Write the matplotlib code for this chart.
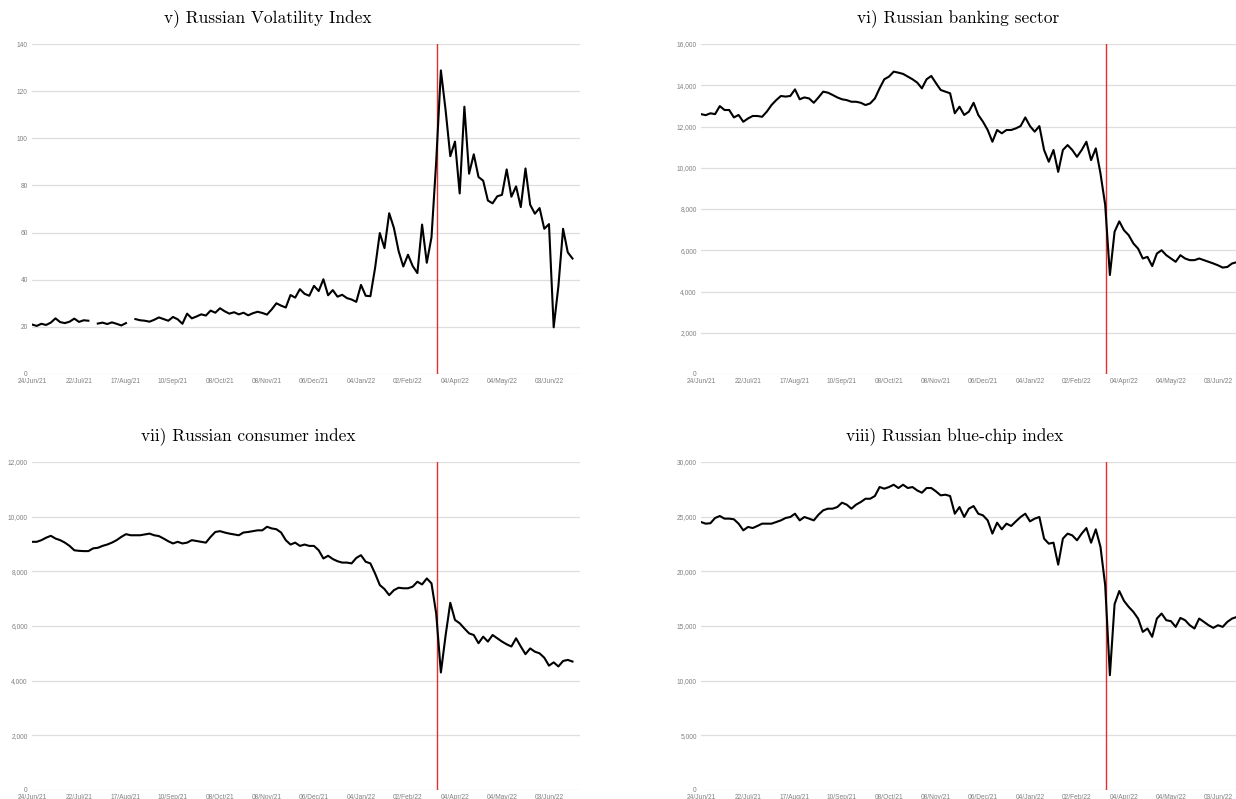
import numpy as np
import matplotlib.pyplot as plt
from matplotlib.ticker import FuncFormatter

# trading-day axis labels (one every 20 sessions)
date_labels = ["24/Jun/21", "22/Jul/21", "17/Aug/21", "10/Sep/21", "08/Oct/21",
               "08/Nov/21", "06/Dec/21", "04/Jan/22", "02/Feb/22", "04/Apr/22",
               "04/May/22", "03/Jun/22"]

# series sampled every second session
vix = [21.0, 20.4, 21.3, 20.8, 21.8, 23.6, 22.0, 21.6, 22.2, 23.5,
       22.1, 22.8, 22.6, np.nan, 21.4, 21.8, 21.2, 21.9, 21.3, 20.6,
       21.6, np.nan, 23.3, 22.8, 22.6, 22.2, 23.0, 24.0, 23.3, 22.6,
       24.2, 23.2, 21.3, 25.6, 23.6, 24.4, 25.3, 24.8, 26.9, 26.0,
       27.9, 26.6, 25.6, 26.2, 25.3, 26.0, 24.9, 25.8, 26.4, 25.9,
       25.2, 27.4, 30.0, 29.0, 28.2, 33.5, 32.4, 36.0, 34.0, 33.2,
       37.4, 35.2, 40.2, 33.4, 35.6, 32.8, 33.6, 32.2, 31.6, 30.6,
       37.8, 33.2, 33.0, 45.0, 59.8, 53.4, 68.2, 62.0, 52.2, 45.6,
       50.6, 45.8, 42.8, 63.4, 47.2, 58.0, 90.0, 128.8, 112.0, 92.4,
       98.6, 76.6, 113.4, 85.0, 93.2, 83.6, 82.0, 73.6, 72.4, 75.4,
       76.0, 86.8, 75.2, 79.6, 70.8, 87.2, 71.8, 68.0, 70.4, 61.6,
       63.6, 19.8, 37.2, 61.6, 51.6, 49.0]

banking = [12600, 12550, 12640, 12600, 12990, 12800, 12800, 12440, 12560, 12230,
           12390, 12510, 12510, 12470, 12720, 13040, 13280, 13480, 13450, 13480,
           13800, 13320, 13410, 13360, 13150, 13410, 13690, 13640, 13530, 13410,
           13320, 13280, 13200, 13200, 13150, 13040, 13120, 13360, 13850, 14290,
           14420, 14660, 14610, 14550, 14420, 14290, 14130, 13850, 14290, 14450,
           14100, 13770, 13690, 13610, 12640, 12960, 12560, 12720, 13150, 12560,
           12230, 11830, 11260, 11830, 11670, 11830, 11830, 11910, 12020, 12440,
           12020, 11750, 12020, 10860, 10290, 10860, 9800, 10860, 11100, 10860,
           10530, 10860, 11260, 10370, 10940, 9720, 8200, 4800, 6900, 7400,
           6970, 6730, 6330, 6080, 5600, 5680, 5230, 5840, 6000, 5760,
           5600, 5440, 5760, 5600, 5520, 5520, 5600, 5520, 5440, 5360,
           5270, 5160, 5190, 5360, 5420, 5500]

consumer = [9080, 9080, 9140, 9230, 9300, 9200, 9140, 9050, 8930, 8770,
            8750, 8740, 8740, 8840, 8860, 8930, 8980, 9050, 9140, 9260,
            9360, 9320, 9320, 9320, 9350, 9380, 9320, 9290, 9200, 9100,
            9020, 9080, 9020, 9050, 9140, 9110, 9080, 9050, 9260, 9440,
            9470, 9420, 9380, 9350, 9320, 9420, 9440, 9470, 9500, 9500,
            9630, 9570, 9540, 9420, 9140, 8980, 9050, 8930, 8980, 8930,
            8930, 8770, 8470, 8570, 8450, 8370, 8320, 8320, 8290, 8490,
            8590, 8350, 8290, 7920, 7500, 7350, 7130, 7310, 7400, 7380,
            7380, 7440, 7620, 7520, 7740, 7560, 6460, 4300, 5650, 6850,
            6220, 6100, 5910, 5730, 5670, 5370, 5610, 5430, 5670, 5550,
            5430, 5330, 5250, 5550, 5250, 4970, 5180, 5060, 5000, 4840,
            4550, 4670, 4520, 4720, 4760, 4700]

bluechip = [24510, 24360, 24400, 24880, 25060, 24820, 24820, 24760, 24360, 23750,
            24060, 23960, 24150, 24360, 24360, 24360, 24510, 24660, 24880, 24970,
            25270, 24660, 24970, 24820, 24660, 25180, 25580, 25730, 25730, 25880,
            26280, 26100, 25730, 26100, 26340, 26640, 26640, 26890, 27710, 27560,
            27710, 27920, 27620, 27920, 27620, 27710, 27400, 27190, 27620, 27620,
            27310, 26950, 27010, 26890, 25270, 25880, 24970, 25730, 25970, 25270,
            25120, 24660, 23450, 24450, 23840, 24360, 24150, 24570, 24970, 25270,
            24570, 24820, 24970, 22990, 22530, 22620, 20610, 22990, 23450, 23290,
            22840, 23450, 23960, 22620, 23840, 22230, 18730, 10500, 17000, 18200,
            17300, 16750, 16290, 15680, 14460, 14770, 14010, 15680, 16140, 15530,
            15440, 14920, 15740, 15530, 15070, 14770, 15680, 15380, 15070, 14830,
            15070, 14920, 15380, 15680, 15830, 15900]

# position of the 24 Feb 2022 marker on the session axis
event_pos = 86.2

W, H = 1236, 799
fig = plt.figure(figsize=(W / 100, H / 100), dpi=100)


def px_box(left, top, right, bottom):
    return [left / W, 1 - bottom / H, (right - left) / W, (bottom - top) / H]


panels = [
    (vix, "v) Russian Volatility Index", 140, 20, False,
     px_box(32, 44, 580, 374), (268, 18)),
    (banking, "vi) Russian banking sector", 16000, 2000, True,
     px_box(701, 44, 1249, 374), (958, 18)),
    (consumer, "vii) Russian consumer index", 12000, 2000, True,
     px_box(32, 462, 580, 790), (248, 436)),
    (bluechip, "viii) Russian blue-chip index", 30000, 5000, True,
     px_box(701, 462, 1249, 790), (955, 436)),
]

grid_col = "#dedede"
label_col = "#808080"

for values, title, ymax, step, commas, box, tpos in panels:
    ax = fig.add_axes(box)
    y = np.array(values, dtype=float)
    x = np.arange(len(y))
    ax.set_xlim(0, 116.6)
    ax.set_ylim(0, ymax)
    ticks = np.arange(0, ymax + step, step)
    ax.set_yticks(ticks)
    for t in ticks:
        ax.axhline(t, color=grid_col, lw=0.9, zorder=0)
    ax.axvline(event_pos, color="#e2302a", lw=1.0, zorder=1)
    ax.plot(x, y, color="black", lw=1.5, zorder=2)

    if commas:
        ax.yaxis.set_major_formatter(FuncFormatter(lambda v, p: f"{int(v):,}"))
    else:
        ax.yaxis.set_major_formatter(FuncFormatter(lambda v, p: f"{int(v)}"))
    ax.set_xticks(np.arange(len(date_labels)) * 10)
    ax.set_xticklabels(date_labels)
    ax.tick_params(length=0, labelsize=4.8, labelcolor=label_col, pad=3)
    for lab in ax.get_xticklabels() + ax.get_yticklabels():
        lab.set_fontfamily("Liberation Sans")
    for s in ax.spines.values():
        s.set_visible(False)

    fig.text(tpos[0] / W, 1 - tpos[1] / H, title, ha="center", va="center",
             fontsize=12.5, fontfamily="cmr10")

fig.savefig("out.png", dpi=100, facecolor="white")
